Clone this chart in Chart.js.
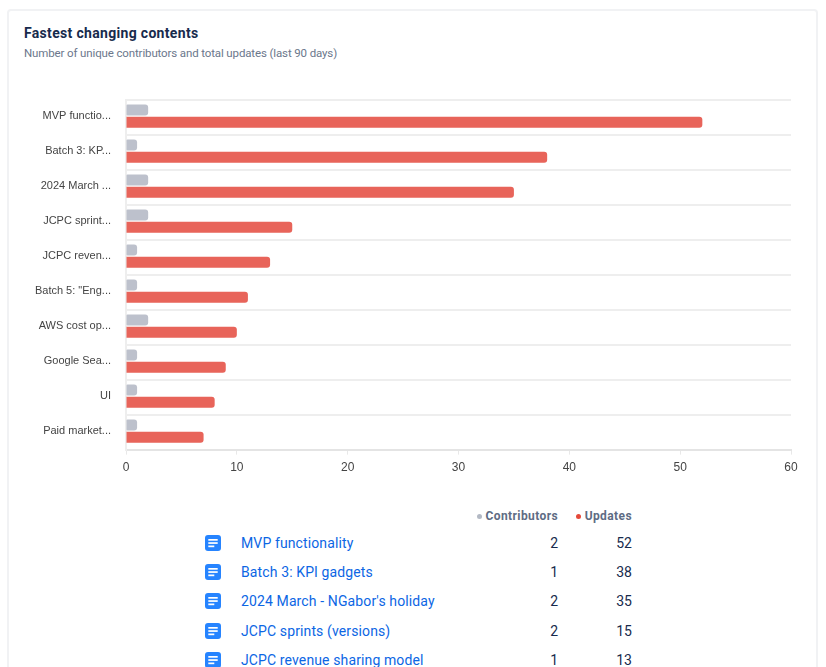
<!DOCTYPE html>
<html>
<head>
<meta charset="utf-8">
<title>Fastest changing contents</title>
<script src="https://cdn.jsdelivr.net/npm/chart.js@4/dist/chart.umd.min.js"></script>
<style>
    html, body { margin: 0; padding: 0; background: #fff; overflow: hidden; width: 826px; height: 667px; }
    body { font-family: Roboto, sans-serif; position: relative; }
    .card { position: absolute; left: 7px; top: 9px; width: 807px; height: 720px; border: 2px solid #f1f2f4; border-radius: 4px; }
    h1 { position: absolute; left: 24px; top: 23px; margin: 0; font-size: 14px; line-height: 20px; font-weight: 700; letter-spacing: 0.32px; color: #172b4d; }
    .sub { position: absolute; left: 24px; top: 44px; font-size: 11.5px; line-height: 18px; letter-spacing: -0.13px; color: #6b778c; }
    .chart-box { position: absolute; left: 0; top: 78px; width: 826px; height: 403px; }
    .head { position: absolute; top: 508px; font-size: 12px; line-height: 17px; font-weight: 700; letter-spacing: 0.4px; color: #5e6c84; white-space: nowrap; }
    .head i { display: inline-block; width: 5px; height: 5px; border-radius: 50%; margin-right: 4px; vertical-align: 1px; }
    .row { position: absolute; left: 0; width: 826px; height: 20px; font-size: 14px; line-height: 20px; }
    .row svg { position: absolute; left: 205px; top: 2px; }
    .row a { position: absolute; left: 241px; color: #0c66e4; letter-spacing: 0.12px; text-decoration: none; white-space: nowrap; }
    .row span { position: absolute; text-align: right; color: #172b4d; }
    .row .c { right: 268px; }
    .row .u { right: 194px; }
</style>
</head>
<body>
<div class="card"></div>
<h1>Fastest changing contents</h1>
<div class="sub">Number of unique contributors and total updates (last 90 days)</div>
<div class="chart-box"><canvas id="contentChart"></canvas></div>
<div class="head" style="right:268px"><i style="background:#b3b9c4"></i>Contributors</div>
<div class="head" style="right:194px"><i style="background:#e5493a"></i>Updates</div>
<div id="rows"></div>
<script>
const chartLabels = ["MVP functio...", "Batch 3: KP...", "2024 March ...", "JCPC sprint...", "JCPC reven...", "Batch 5: \"Eng...", "AWS cost op...", "Google Sea...", "UI", "Paid market..."];
const contributors = [2, 1, 2, 2, 1, 1, 2, 1, 1, 1];
const updates = [52, 38, 35, 15, 13, 11, 10, 9, 8, 7];
const tableNames = ["MVP functionality", "Batch 3: KPI gadgets", "2024 March - NGabor's holiday", "JCPC sprints (versions)", "JCPC revenue sharing model"];
const rowTops = [533, 562, 591, 621, 650];

// the bars sit 1px above the category centre in the original
const nudgeBars = {
    id: "nudgeBars",
    beforeDatasetsDraw: function (chart) {
        chart.ctx.save();
        chart.ctx.translate(0, -1);
    },
    afterDatasetsDraw: function (chart) {
        chart.ctx.restore();
    }
};

document.addEventListener("DOMContentLoaded", function () {
    const rows = document.getElementById("rows");
    tableNames.forEach(function (name, i) {
        const row = document.createElement("div");
        row.className = "row";
        row.style.top = rowTops[i] + "px";
        row.innerHTML = '<svg width="16" height="16" viewBox="0 0 16 16"><rect width="16" height="16" rx="3" fill="#2684ff"/>' +
            '<rect x="3.3" y="4" width="9.4" height="1.7" fill="#fff"/><rect x="3.3" y="7.2" width="9.4" height="1.7" fill="#fff"/><rect x="3.3" y="10.5" width="6" height="1.7" fill="#fff"/></svg>' +
            '<a href="#"></a><span class="c">' + contributors[i] + '</span><span class="u">' + updates[i] + '</span>';
        row.querySelector("a").textContent = name;
        rows.appendChild(row);
    });

    new Chart(document.getElementById("contentChart").getContext("2d"), {
        type: "bar",
        data: {
            labels: chartLabels,
            datasets: [
                {
                    label: "Contributors",
                    data: contributors,
                    backgroundColor: "#bdc1cc",
                    borderRadius: { topLeft: 1, bottomLeft: 1, topRight: 3, bottomRight: 3 },
                    borderSkipped: false
                },
                {
                    label: "Updates",
                    data: updates,
                    backgroundColor: "#e8645a",
                    borderRadius: { topLeft: 0, bottomLeft: 0, topRight: 3, bottomRight: 3 },
                    borderSkipped: false
                }
            ]
        },
        options: {
            indexAxis: "y",
            responsive: true,
            maintainAspectRatio: false,
            animation: false,
            datasets: { bar: { categoryPercentage: 0.7, barPercentage: 0.9 } },
            layout: { padding: { top: 10, right: 35, bottom: 0, left: 0 } },
            scales: {
                x: {
                    min: 0,
                    max: 60,
                    ticks: { stepSize: 10, color: "#444", font: { family: "Liberation Sans", size: 12 }, padding: 6, maxRotation: 0 },
                    grid: { drawOnChartArea: false, drawTicks: true, tickLength: 5, color: "#e8e8e8" },
                    border: { color: "#e4e4e4", width: 2 }
                },
                y: {
                    afterFit: function (scale) { scale.width = 126; },
                    ticks: { color: "#444", font: { family: "Liberation Sans", size: 11 }, padding: 15, labelOffset: -1 },
                    grid: { drawTicks: false, color: "#eeeeee", lineWidth: 2 },
                    border: { color: "#eeeeee", width: 2 }
                }
            },
            plugins: {
                legend: { display: false },
                tooltip: { enabled: false }
            }
        },
        plugins: [nudgeBars]
    });
});
</script>
</body>
</html>
